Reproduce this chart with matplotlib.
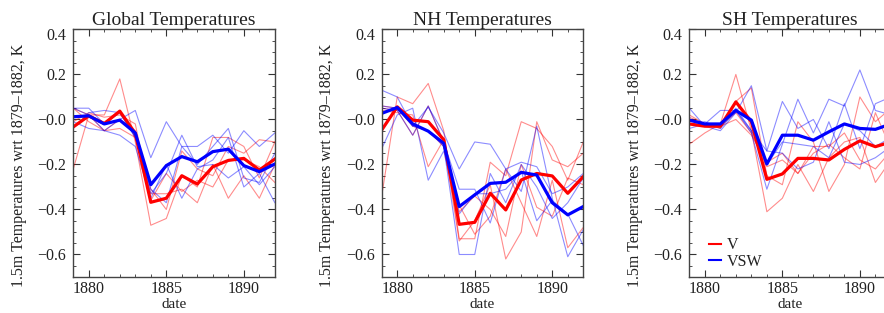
import numpy as np
import matplotlib
matplotlib.use("Agg")
import matplotlib.pyplot as plt
import matplotlib.transforms as mtransforms
from matplotlib.ticker import MultipleLocator, FixedLocator, FixedFormatter

plt.rcParams['font.family'] = ['Liberation Serif', 'DejaVu Serif']

years = np.arange(1879, 1893)

titles = ["Global Temperatures", "NH Temperatures", "SH Temperatures"]
legend_labels = ["V", "VSW"]

# ensemble means (thick lines)
glob_v_mean = [-0.033, 0.016, -0.018, 0.037, -0.062, -0.368, -0.350, -0.250, -0.287, -0.210, -0.182, -0.173, -0.225, -0.176]
glob_vsw_mean = [0.012, 0.016, -0.020, -0.003, -0.060, -0.290, -0.205, -0.165, -0.188, -0.143, -0.132, -0.205, -0.232, -0.198]
nh_v_mean = [-0.047, 0.056, -0.003, -0.010, -0.090, -0.466, -0.457, -0.328, -0.402, -0.269, -0.240, -0.251, -0.328, -0.254]
nh_vsw_mean = [0.027, 0.053, -0.020, -0.052, -0.106, -0.387, -0.335, -0.284, -0.279, -0.235, -0.247, -0.370, -0.424, -0.387]
sh_v_mean = [-0.020, -0.030, -0.030, 0.078, -0.010, -0.266, -0.242, -0.173, -0.173, -0.180, -0.133, -0.095, -0.121, -0.100]
sh_vsw_mean = [-0.003, -0.020, -0.020, 0.040, -0.003, -0.198, -0.070, -0.070, -0.092, -0.055, -0.020, -0.040, -0.044, -0.020]

# individual ensemble members (thin lines)
glob_v_members = [
    [-0.22, 0.02, 0.02, 0.18, -0.10, -0.47, -0.44, -0.25, -0.30, -0.08, -0.08, -0.12, -0.26, -0.10],
    [0.05, 0.02, -0.05, 0.00, -0.05, -0.31, -0.40, -0.14, -0.22, -0.25, -0.12, -0.15, -0.09, -0.10],
    [0.05, -0.01, -0.05, -0.04, -0.08, -0.33, -0.33, -0.31, -0.37, -0.20, -0.35, -0.25, -0.35, -0.20],
    [-0.01, 0.03, 0.01, 0.02, -0.02, -0.36, -0.24, -0.32, -0.27, -0.30, -0.18, -0.18, -0.21, -0.28],
]
glob_vsw_members = [
    [0.05, 0.02, -0.05, 0.00, 0.04, -0.17, -0.01, -0.12, -0.12, -0.07, -0.15, -0.05, -0.12, -0.06],
    [0.05, 0.05, -0.02, 0.03, -0.08, -0.31, -0.37, -0.12, -0.20, -0.12, -0.04, -0.26, -0.28, -0.15],
    [-0.01, -0.04, -0.05, -0.07, -0.12, -0.35, -0.20, -0.35, -0.22, -0.18, -0.08, -0.30, -0.24, -0.37],
    [-0.04, 0.03, 0.04, 0.03, -0.08, -0.33, -0.24, -0.07, -0.21, -0.20, -0.26, -0.21, -0.29, -0.21],
]
nh_v_members = [
    [-0.34, 0.10, 0.07, 0.16, -0.05, -0.53, -0.53, -0.19, -0.25, -0.01, -0.04, -0.12, -0.27, -0.10],
    [0.05, 0.04, -0.07, 0.06, -0.10, -0.54, -0.45, -0.29, -0.62, -0.50, -0.01, -0.18, -0.21, -0.15],
    [0.06, 0.05, -0.03, -0.05, -0.12, -0.38, -0.51, -0.43, -0.22, -0.37, -0.52, -0.27, -0.57, -0.48],
    [0.04, 0.03, 0.02, -0.21, -0.09, -0.41, -0.34, -0.40, -0.52, -0.20, -0.39, -0.43, -0.26, -0.29],
]
nh_vsw_members = [
    [0.13, 0.10, -0.03, 0.055, -0.06, -0.22, -0.10, -0.11, -0.22, -0.19, -0.21, -0.33, -0.30, -0.24],
    [0.05, 0.04, -0.07, 0.06, -0.10, -0.31, -0.31, -0.46, -0.22, -0.32, -0.03, -0.35, -0.61, -0.49],
    [0.06, 0.05, -0.03, -0.05, -0.12, -0.60, -0.60, -0.24, -0.37, -0.20, -0.30, -0.44, -0.37, -0.26],
    [-0.13, 0.02, 0.05, -0.27, -0.14, -0.42, -0.33, -0.33, -0.31, -0.23, -0.45, -0.36, -0.42, -0.56],
]
sh_v_members = [
    [-0.11, -0.06, -0.02, 0.20, -0.05, -0.41, -0.35, -0.20, -0.32, -0.17, -0.10, -0.08, -0.28, -0.18],
    [0.01, -0.02, -0.04, 0.08, 0.14, -0.25, -0.29, -0.01, -0.10, -0.32, -0.20, 0.10, -0.01, 0.05],
    [0.00, -0.02, -0.03, 0.03, -0.06, -0.21, -0.18, -0.24, -0.12, -0.12, -0.06, -0.18, -0.22, -0.14],
    [0.02, -0.02, -0.03, 0.00, -0.07, -0.19, -0.15, -0.24, -0.15, -0.11, -0.17, -0.22, 0.03, -0.13],
]
sh_vsw_members = [
    [0.05, -0.03, -0.05, 0.03, 0.15, -0.14, 0.08, -0.04, 0.00, -0.13, 0.07, -0.13, 0.07, 0.10],
    [-0.02, -0.01, -0.04, 0.04, -0.06, -0.31, -0.11, 0.09, -0.06, 0.09, 0.06, 0.22, 0.04, 0.02],
    [0.00, -0.02, -0.03, 0.05, -0.05, -0.14, -0.15, -0.22, -0.19, -0.01, -0.19, -0.20, -0.17, -0.12],
    [-0.04, -0.02, 0.04, 0.04, -0.05, -0.20, -0.10, -0.11, -0.12, -0.17, -0.02, -0.05, -0.12, -0.08],
]

ytick_vals = [-0.6, -0.4, -0.2, 0.0, 0.2, 0.4]
ytick_labels = ["\u22120.6", "\u22120.4", "\u22120.2", "\u22120.0", "0.2", "0.4"]
xtick_vals = [1880, 1885, 1890]

panels = [
    (glob_v_members, glob_vsw_members, glob_v_mean, glob_vsw_mean),
    (nh_v_members, nh_vsw_members, nh_v_mean, nh_vsw_mean),
    (sh_v_members, sh_vsw_members, sh_v_mean, sh_vsw_mean),
]

#- - - - - - - - - - - - - - - - - - - - - - - - - - - - - - - - - - - - - - #

fig = plt.figure(figsize=(8.84, 3.13), dpi=100)
lefts = [0.0829, 0.4318, 0.7798]
text_col = "#222222"

for i, (v_mem, vsw_mem, v_mean, vsw_mean) in enumerate(panels):
    ax = fig.add_axes([lefts[i], 0.115, 0.228, 0.791])

    for m in v_mem:
        ax.plot(years, m, color="#ff0000", lw=0.8, alpha=0.45)
    for m in vsw_mem:
        ax.plot(years, m, color="#0000ff", lw=0.8, alpha=0.45)
    ax.plot(years, v_mean, color="#ff0000", lw=2.3, label=legend_labels[0])
    ax.plot(years, vsw_mean, color="#0000ff", lw=2.3, label=legend_labels[1])

    ax.set_xlim(1879, 1892)
    ax.set_ylim(-0.7, 0.4)
    ax.xaxis.set_major_locator(FixedLocator(xtick_vals))
    ax.xaxis.set_minor_locator(MultipleLocator(1))
    ax.yaxis.set_major_locator(FixedLocator(ytick_vals))
    ax.yaxis.set_major_formatter(FixedFormatter(ytick_labels))
    ax.yaxis.set_minor_locator(MultipleLocator(0.05))
    ax.tick_params(which="both", direction="in", top=True, right=True,
                   colors="#333333", labelcolor=text_col, labelsize=11.5)
    ax.tick_params(which="major", length=5, width=0.8, pad=5)
    ax.tick_params(axis="x", which="major", pad=3)
    ax.tick_params(which="minor", length=2.5, width=0.6)
    for sp in ax.spines.values():
        sp.set_color("#444444")
        sp.set_linewidth(1.0)

    ax.set_title(titles[i], fontsize=14, color=text_col, pad=3)
    ax.set_xlabel("date", fontsize=11, color=text_col)
    ax.xaxis.set_label_coords(0.5, -0.085)
    ax.set_ylabel("1.5m Temperatures wrt 1879\u20131882, K", fontsize=11.5, color=text_col)
    ax.yaxis.set_label_coords(-0.23, 0.45)

    # IDL pushes the top label down a little
    lab = ax.get_yticklabels()[-1]
    lab.set_transform(lab.get_transform() + mtransforms.ScaledTranslation(0, -0.05, fig.dpi_scale_trans))

    if i == 2:
        leg = ax.legend(loc="lower left", bbox_to_anchor=(0.025, -0.03), frameon=False,
                        handlelength=0.75, handletextpad=0.4, labelspacing=0.05,
                        fontsize=11.5, labelcolor=text_col)
        for h in leg.get_lines():
            h.set_linewidth(1.5)

fig.savefig("out.png", dpi=100)
